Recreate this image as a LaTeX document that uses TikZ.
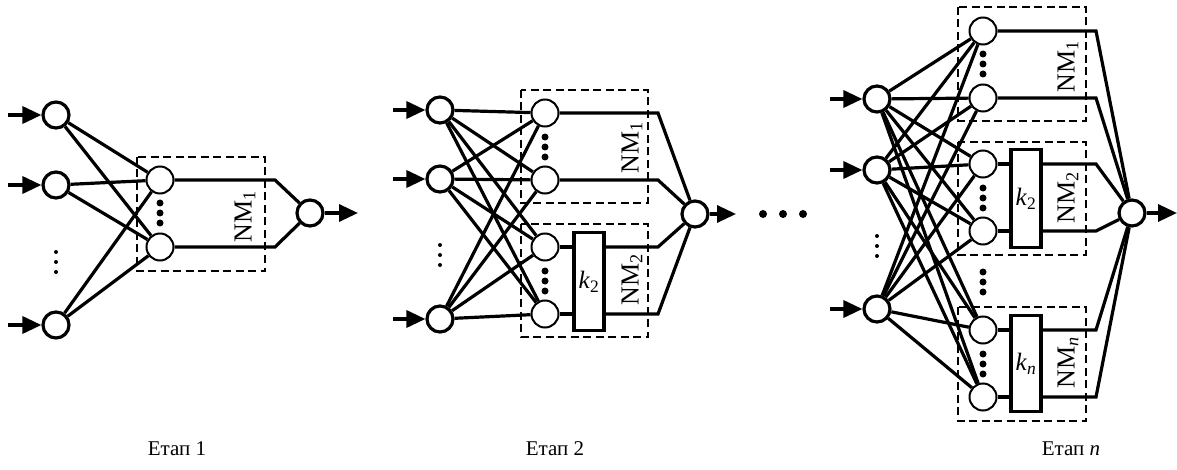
\documentclass[tikz,border=0pt]{standalone}
\usepackage{fontspec}
\setmainfont{Liberation Serif}
\usetikzlibrary{arrows.meta,backgrounds}
\begin{document}
\begin{tikzpicture}[x=1pt,y=-1pt,
  neuron/.style={circle,draw,line width=3.2pt,minimum size=26pt,inner sep=0pt,fill=white},
  hid/.style={circle,draw,line width=2pt,minimum size=27pt,inner sep=0pt,fill=white},
  conn/.style={line width=3.2pt},
  inarrow/.style={line width=3.4pt,-{Triangle[length=19pt,width=17pt]}},
  nmbox/.style={draw,line width=2.1pt,dash pattern=on 8pt off 4.5pt,inner sep=0pt},
  kbox/.style={draw,line width=3.2pt,fill=white,inner sep=0pt,minimum width=30pt,font=\fontsize{25}{28}\selectfont},
  nmlabel/.style={rotate=90,font=\fontsize{26}{28}\selectfont,inner sep=0pt},
  stagelabel/.style={font=\fontsize{21}{24}\selectfont,inner sep=0pt},
  bigdot/.style={circle,fill,inner sep=0pt,minimum size=7pt},
  smalldot/.style={circle,fill,inner sep=0pt,minimum size=4pt}
]
\useasboundingbox (0,0) rectangle (1177,470);

% ---------------- Stage 1 ----------------
\node[neuron] (a1) at (56,115) {};
\node[neuron] (a2) at (56,185) {};
\node[neuron] (a3) at (56,325) {};
\node[hid] (ah1) at (160,180) {};
\node[hid] (ah2) at (160,247) {};
\node[neuron] (ao) at (310,213) {};
\coordinate (as1) at (8,115);
\coordinate (as2) at (8,185);
\coordinate (as3) at (8,325);
\coordinate (aend) at (358,213);
\coordinate (abend) at (275,0);
\node[smalldot] (ad1) at (56,252) {};
\node[smalldot] (ad2) at (56,262) {};
\node[smalldot] (ad3) at (56,272) {};
\node[bigdot] (ahd1) at (160,203) {};
\node[bigdot] (ahd2) at (160,213) {};
\node[bigdot] (ahd3) at (160,223) {};
\node[nmlabel] (anm) at (245,217) {NM\textsubscript{1}};

% ---------------- Stage 2 ----------------
\node[neuron] (b1) at (440,110) {};
\node[neuron] (b2) at (440,179) {};
\node[neuron] (b3) at (440,319) {};
\node[hid] (bh1) at (545,113) {};
\node[hid] (bh2) at (545,180) {};
\node[hid] (bh3) at (545,247) {};
\node[hid] (bh4) at (545,314) {};
\node[neuron] (bo) at (695,214) {};
\node[kbox,minimum height=98pt] (bk) at (589,281.5) {\textit{k}\textsubscript{2}};
\coordinate (bs1) at (393,110);
\coordinate (bs2) at (393,179);
\coordinate (bs3) at (393,319);
\coordinate (bend) at (736,214);
\coordinate (bbend) at (658,0);
\node[smalldot] (bd1) at (440,245) {};
\node[smalldot] (bd2) at (440,255) {};
\node[smalldot] (bd3) at (440,265) {};
\node[bigdot] (bhd1) at (545,137) {};
\node[bigdot] (bhd2) at (545,147) {};
\node[bigdot] (bhd3) at (545,157) {};
\node[bigdot] (bhd4) at (545,271) {};
\node[bigdot] (bhd5) at (545,281) {};
\node[bigdot] (bhd6) at (545,291) {};
\node[nmlabel] (bnm1) at (632,148) {NM\textsubscript{1}};
\node[nmlabel] (bnm2) at (632,280) {NM\textsubscript{2}};

% ---------------- dots between stages ----------------
\node[bigdot,minimum size=8pt] (m1) at (763,214) {};
\node[bigdot,minimum size=8pt] (m2) at (783,214) {};
\node[bigdot,minimum size=8pt] (m3) at (803,214) {};

% ---------------- Stage n ----------------
\node[neuron] (c1) at (877,99) {};
\node[neuron] (c2) at (877,170) {};
\node[neuron] (c3) at (877,309) {};
\node[hid] (ch1) at (983,31) {};
\node[hid] (ch2) at (983,98) {};
\node[hid] (ch3) at (983,164) {};
\node[hid] (ch4) at (983,231) {};
\node[hid] (ch5) at (983,330) {};
\node[hid] (ch6) at (983,397) {};
\node[neuron] (co) at (1132,213) {};
\node[kbox,minimum height=98pt] (ck2) at (1026,198.5) {\textit{k}\textsubscript{2}};
\node[kbox,minimum height=96pt] (ckn) at (1026,363.5) {\textit{k}\textsubscript{\textit{n}}};
\coordinate (cs1) at (830,99);
\coordinate (cs2) at (830,170);
\coordinate (cs3) at (830,309);
\coordinate (cend) at (1177,213);
\coordinate (cbend) at (1096,0);
\node[smalldot] (cd1) at (877,236) {};
\node[smalldot] (cd2) at (877,246) {};
\node[smalldot] (cd3) at (877,256) {};
\node[bigdot] (chd1) at (983,54) {};
\node[bigdot] (chd2) at (983,64) {};
\node[bigdot] (chd3) at (983,74) {};
\node[bigdot] (chd4) at (983,188) {};
\node[bigdot] (chd5) at (983,198) {};
\node[bigdot] (chd6) at (983,208) {};
\node[bigdot] (chd7) at (983,272) {};
\node[bigdot] (chd8) at (983,282) {};
\node[bigdot] (chd9) at (983,292) {};
\node[bigdot] (chd10) at (983,354) {};
\node[bigdot] (chd11) at (983,364) {};
\node[bigdot] (chd12) at (983,374) {};
\node[nmlabel] (cnm1) at (1068,67) {NM\textsubscript{1}};
\node[nmlabel] (cnm2) at (1068,198) {NM\textsubscript{2}};
\node[nmlabel] (cnmn) at (1068,363) {NM\textsubscript{\textit{n}}};

% ---------------- stage captions ----------------
\node[stagelabel] (l1) at (177,449) {Етап 1};
\node[stagelabel] (l2) at (555,449) {Етап 2};
\node[stagelabel] (ln) at (1071,449) {Етап \textit{n}};

\begin{scope}[on background layer]
  % dashed boxes
  \draw[nmbox] (137,157) rectangle (265,271);
  \draw[nmbox] (521,90) rectangle (648,203);
  \draw[nmbox] (521,224) rectangle (648,337);
  \draw[nmbox] (958,7) rectangle (1086,121);
  \draw[nmbox] (958,142) rectangle (1086,255);
  \draw[nmbox] (958,307) rectangle (1086,421);

  % stage 1 connections
  \foreach \i in {a1,a2,a3}
    \foreach \h in {ah1,ah2}
      \draw[conn] (\i) -- (\h);
  \draw[conn] (ah1.east) -- (ah1.east -| abend) -- (ao);
  \draw[conn] (ah2.east) -- (ah2.east -| abend) -- (ao);

  % stage 2 connections
  \foreach \i in {b1,b2,b3}
    \foreach \h in {bh1,bh2,bh3,bh4}
      \draw[conn] (\i) -- (\h);
  \draw[conn] (bh1.east) -- (bh1.east -| bbend) -- (bo);
  \draw[conn] (bh2.east) -- (bh2.east -| bbend) -- (bo);
  \draw[conn] (bh3.east) -- (bh3.east -| bk.west);
  \draw[conn] (bh3.east -| bk.east) -- (bh3.east -| bbend) -- (bo);
  \draw[conn] (bh4.east) -- (bh4.east -| bk.west);
  \draw[conn] (bh4.east -| bk.east) -- (bh4.east -| bbend) -- (bo);

  % stage n connections
  \foreach \i in {c1,c2,c3}
    \foreach \h in {ch1,ch2,ch3,ch4,ch5,ch6}
      \draw[conn] (\i) -- (\h);
  \draw[conn] (ch1.east) -- (ch1.east -| cbend) -- (co);
  \draw[conn] (ch2.east) -- (ch2.east -| cbend) -- (co);
  \draw[conn] (ch3.east) -- (ch3.east -| ck2.west);
  \draw[conn] (ch3.east -| ck2.east) -- (ch3.east -| cbend) -- (co);
  \draw[conn] (ch4.east) -- (ch4.east -| ck2.west);
  \draw[conn] (ch4.east -| ck2.east) -- (ch4.east -| cbend) -- (co);
  \draw[conn] (ch5.east) -- (ch5.east -| ckn.west);
  \draw[conn] (ch5.east -| ckn.east) -- (ch5.east -| cbend) -- (co);
  \draw[conn] (ch6.east) -- (ch6.east -| ckn.west);
  \draw[conn] (ch6.east -| ckn.east) -- (ch6.east -| cbend) -- (co);
\end{scope}

% arrows
\draw[inarrow] (as1) -- (a1);
\draw[inarrow] (as2) -- (a2);
\draw[inarrow] (as3) -- (a3);
\draw[inarrow] (ao) -- (aend);
\draw[inarrow] (bs1) -- (b1);
\draw[inarrow] (bs2) -- (b2);
\draw[inarrow] (bs3) -- (b3);
\draw[inarrow] (bo) -- (bend);
\draw[inarrow] (cs1) -- (c1);
\draw[inarrow] (cs2) -- (c2);
\draw[inarrow] (cs3) -- (c3);
\draw[inarrow] (co) -- (cend);
\end{tikzpicture}
\end{document}
